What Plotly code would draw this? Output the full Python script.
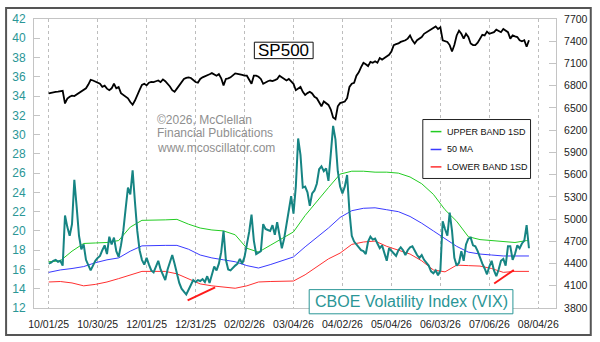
import plotly.graph_objects as go

# ---------------- data ----------------
tick_days = [0, 21, 42, 63, 84, 105, 126, 147, 168, 189, 210]
tick_labels = ["10/01/25", "10/30/25", "12/01/25", "12/31/25", "02/02/26", "03/04/26",
               "04/02/26", "05/04/26", "06/03/26", "07/06/26", "08/04/26"]

vix = [16.6, 16.7, 16.9, 17.0, 16.8, 16.9, 16.4, 21.6, 20.4, 19.5,
       20.7, 25.3, 22.5, 19.5, 18.1, 18.6, 17.0, 16.4, 15.9, 16.4,
       16.9, 17.2, 17.4, 18.0, 18.5, 17.6, 19.4, 18.6, 19.3, 17.9,
       17.3, 18.5, 20.0, 22.3, 24.5, 23.8, 26.3, 23.0, 20.0, 18.0,
       17.0, 16.5, 17.2, 16.5, 15.9, 15.7, 16.3, 16.9, 16.0, 15.5,
       14.9, 16.0, 16.8, 17.5, 16.6, 15.6, 14.6, 14.0, 13.7, 13.4,
       13.9, 14.4, 14.9, 14.7, 14.9, 14.8, 15.0, 14.7, 15.3, 14.6,
       15.5, 16.3, 15.9, 16.6, 17.8, 20.0, 17.0, 16.0, 15.9, 16.2,
       16.4, 16.6, 17.1, 16.6, 17.3, 18.6, 19.9, 21.7, 19.0, 17.6,
       17.8, 17.9, 20.7, 20.2, 20.1, 20.0, 20.6, 19.6, 20.9, 19.6,
       18.2, 19.2, 20.6, 22.2, 23.6, 21.8, 24.6, 29.6, 27.9, 24.5,
       24.6, 24.0, 22.6, 23.9, 24.2, 24.9, 26.4, 26.7, 26.2, 26.5,
       25.2, 28.0, 30.9, 29.5, 26.2, 24.6, 23.9, 24.6, 25.8, 22.0,
       19.5, 18.9, 18.6, 18.3, 18.0, 17.9, 17.6, 18.9, 19.4, 19.1,
       19.2, 18.7, 18.2, 18.5, 17.6, 16.9, 18.2, 17.9, 17.6, 17.4,
       18.0, 18.3, 18.0, 17.5, 18.0, 18.3, 18.4, 17.9, 17.5, 17.2,
       17.5, 17.0, 16.7, 16.4, 15.8, 15.6, 15.9, 15.4, 15.9, 21.0,
       20.2, 19.5, 21.9, 20.0, 17.2, 16.4, 16.7, 17.9, 16.9, 18.6,
       19.2, 19.3, 18.5, 18.4, 17.9, 17.2, 16.6, 16.1, 15.5, 16.3,
       16.9, 15.9, 15.3, 16.0, 16.9, 17.1, 16.4, 18.4, 18.4, 17.0,
       17.6, 18.5, 18.2, 18.7, 19.0, 20.6, 18.2]

sp500 = [6696, 6705, 6712, 6718, 6720, 6728, 6731, 6560, 6625, 6650,
         6665, 6660, 6680, 6705, 6715, 6740, 6765, 6815, 6880, 6870,
         6855, 6845, 6826, 6785, 6800, 6760, 6740, 6765, 6826, 6765,
         6783, 6700, 6680, 6650, 6630, 6580, 6543, 6600, 6680, 6745,
         6810, 6826, 6804, 6840, 6850, 6848, 6860, 6870, 6848, 6885,
         6860, 6826, 6790, 6740, 6718, 6760, 6800, 6850, 6891, 6905,
         6913, 6904, 6875, 6850, 6840, 6891, 6913, 6930, 6948, 6955,
         6970, 6950, 6935, 6957, 6900, 6804, 6891, 6900, 6913, 6940,
         6966, 6960, 6957, 6945, 6935, 6935, 6880, 6826, 6935, 6935,
         6920, 6891, 6826, 6848, 6860, 6870, 6861, 6875, 6891, 6935,
         6913, 6900, 6870, 6891, 6860, 6826, 6739, 6760, 6783, 6718,
         6674, 6700, 6718, 6696, 6650, 6631, 6565, 6522, 6587, 6565,
         6540, 6478, 6370, 6348, 6522, 6565, 6580, 6587, 6631, 6783,
         6826, 6840, 6935, 6980, 7050, 7109, 7090, 7065, 7122, 7110,
         7130, 7109, 7174, 7152, 7175, 7196, 7217, 7261, 7348, 7360,
         7370, 7391, 7400, 7413, 7435, 7478, 7413, 7370, 7413, 7430,
         7457, 7500, 7520, 7543, 7565, 7575, 7600, 7565, 7587, 7413,
         7400, 7391, 7348, 7261, 7348, 7478, 7543, 7500, 7435, 7500,
         7457, 7370, 7348, 7348, 7380, 7435, 7487, 7478, 7530, 7500,
         7510, 7522, 7557, 7540, 7522, 7565, 7540, 7522, 7435, 7478,
         7465, 7457, 7413, 7400, 7413, 7326, 7413]

band_days = [0, 5, 10, 15, 20, 25, 30, 35, 40, 45, 50, 55, 60, 65, 70, 75, 80, 85,
             90, 95, 100, 105, 110, 115, 120, 125, 130, 135, 140, 145, 150, 155,
             160, 165, 170, 175, 180, 185, 190, 195, 200, 205, 206]
upper_band = [16.8, 16.9, 17.9, 18.7, 18.75, 18.8, 19.0, 20.4, 21.1, 21.1, 21.15, 21.2,
              20.7, 20.3, 20.1, 20.0, 19.6, 18.2, 17.8, 18.5, 19.2, 19.9, 21.6, 23.1,
              24.5, 25.9, 26.2, 26.2, 26.1, 26.1, 26.0, 25.6, 24.9, 23.8, 22.2, 21.0,
              19.4, 19.1, 19.0, 18.9, 18.8, 19.0, 19.0]
ma50 = [15.7, 15.95, 16.1, 16.3, 16.7, 17.0, 17.2, 17.9, 18.45, 18.5, 18.5, 18.5,
        18.1, 17.5, 17.2, 17.0, 16.8, 16.4, 16.15, 16.5, 16.9, 17.3, 18.35, 19.3,
        20.3, 21.4, 22.1, 22.35, 22.4, 22.2, 22.0, 21.5, 20.8, 20.0, 19.2, 18.4,
        17.8, 17.6, 17.5, 17.4, 17.4, 17.4, 17.4]
lower_band = [14.7, 14.75, 14.6, 14.3, 14.45, 14.7, 15.05, 15.45, 15.8, 15.8, 15.8, 15.55,
              15.0, 14.5, 14.3, 14.15, 14.05, 14.3, 14.7, 14.75, 14.8, 14.8, 15.45, 16.3,
              17.1, 17.7, 18.6, 18.85, 18.95, 18.4, 18.0, 17.6, 16.9, 15.95, 15.75, 16.45,
              16.4, 16.35, 16.1, 15.7, 15.8, 15.8, 15.8]

# hand-drawn support trendlines (day index, VIX level)
trend1_days = [59.6, 71.4]
trend1_vix = [12.8, 14.14]
trend2_days = [191.1, 199.5]
trend2_vix = [14.54, 15.94]

legend_names = ["UPPER BAND 1SD", "50 MA", "LOWER BAND 1SD"]
legend_colors = ["#22cc22", "#3a3aff", "#ff3030"]

days = list(range(len(vix)))

FONT = "Arial, Liberation Sans, sans-serif"
TEAL = "#168483"
TEAL_TXT = "#2a9696"

fig = go.Figure()
fig.add_trace(go.Scatter(x=band_days, y=upper_band, mode="lines",
                         line=dict(color=legend_colors[0], width=1), showlegend=False))
fig.add_trace(go.Scatter(x=band_days, y=ma50, mode="lines",
                         line=dict(color=legend_colors[1], width=1), showlegend=False))
fig.add_trace(go.Scatter(x=band_days, y=lower_band, mode="lines",
                         line=dict(color=legend_colors[2], width=1), showlegend=False))
fig.add_trace(go.Scatter(x=days, y=vix, mode="lines",
                         line=dict(color=TEAL, width=2), showlegend=False))
fig.add_trace(go.Scatter(x=trend1_days, y=trend1_vix, mode="lines",
                         line=dict(color="#ff1a1a", width=2), showlegend=False))
fig.add_trace(go.Scatter(x=trend2_days, y=trend2_vix, mode="lines",
                         line=dict(color="#ff1a1a", width=2), showlegend=False))
fig.add_trace(go.Scatter(x=days, y=sp500, mode="lines", yaxis="y2",
                         line=dict(color="#000000", width=1.8), showlegend=False))

L, R, T, B = 30, 37, 13, 30
W, H = 600, 342
pw, ph = W - L - R, H - T - B


def px(xp):
    return (xp - L) / pw


def py(yp):
    return (H - B - yp) / ph


AX = "#c4c4c4"
fig.update_layout(
    width=W, height=H,
    margin=dict(l=L, r=R, t=T, b=B),
    paper_bgcolor="white", plot_bgcolor="white",
    font=dict(family=FONT),
    xaxis=dict(range=[-6.3, 217.6], tickvals=tick_days, ticktext=tick_labels,
               showgrid=True, gridcolor="#bdbdbd", griddash="dot", gridwidth=1,
               showline=True, linecolor=AX, linewidth=1, mirror=True,
               ticks="", zeroline=False, ticklabelstandoff=6,
               tickfont=dict(size=10.5, color="#222222", family=FONT)),
    yaxis=dict(range=[12, 42], dtick=2, showgrid=False, zeroline=False,
               showline=True, linecolor=AX, linewidth=1,
               ticks="inside", ticklen=6, tickcolor=AX,
               ticklabelstandoff=5,
               tickfont=dict(size=12, color=TEAL_TXT, family=FONT)),
    yaxis2=dict(range=[3800, 7700], tick0=3800, dtick=300, overlaying="y", side="right",
                showgrid=False, zeroline=False, showline=True, linecolor=AX,
                ticks="inside", ticklen=7, tickcolor=AX, ticklabelstandoff=5,
                tickfont=dict(size=10.5, color="#222222", family=FONT)),
)

shapes = []
annotations = []
# outer frame
shapes.append(dict(type="rect", xref="paper", yref="paper",
                   x0=px(1.5), x1=px(598.5), y0=py(340), y1=py(1.5),
                   line=dict(color="#555555", width=2)))
# SP500 title box
shapes.append(dict(type="rect", xref="paper", yref="paper",
                   x0=px(255), x1=px(315), y0=py(54), y1=py(37),
                   line=dict(color="#111111", width=1), fillcolor="white"))
annotations.append(dict(text="SP500", xref="paper", yref="paper", x=px(285), y=py(45.5),
                        xanchor="center", yanchor="middle", showarrow=False,
                        font=dict(size=17, color="#000000", family=FONT)))
# VIX label box
shapes.append(dict(type="rect", xref="paper", yref="paper",
                   x0=px(311), x1=px(519), y0=py(318), y1=py(293),
                   line=dict(color=TEAL_TXT, width=1), fillcolor="white"))
annotations.append(dict(text="CBOE Volatility Index (VIX)", xref="paper", yref="paper",
                        x=px(415), y=py(305.5), xanchor="center", yanchor="middle",
                        showarrow=False, font=dict(size=16, color=TEAL_TXT, family=FONT)))
# copyright
for txt, yy in [("©2026, McClellan", 117), ("Financial Publications", 131),
                ("www.mcoscillator.com", 146)]:
    annotations.append(dict(text=txt, xref="paper", yref="paper", x=px(154), y=py(yy),
                            xanchor="left", yanchor="middle", showarrow=False,
                            font=dict(size=12, color="#8f8f8f", family=FONT)))
# manual legend
shapes.append(dict(type="rect", xref="paper", yref="paper",
                   x0=px(427), x1=px(537), y0=py(178), y1=py(117),
                   line=dict(color="#222222", width=1), fillcolor="white"))
for name, col, yy in zip(legend_names, legend_colors, [129.5, 148, 166]):
    shapes.append(dict(type="line", xref="paper", yref="paper",
                       x0=px(435), x1=px(446), y0=py(yy), y1=py(yy),
                       line=dict(color=col, width=1.5)))
    annotations.append(dict(text=name, xref="paper", yref="paper", x=px(450), y=py(yy),
                            xanchor="left", yanchor="middle", showarrow=False,
                            font=dict(size=9, color="#111111", family=FONT)))

fig.update_layout(shapes=shapes, annotations=annotations)
fig.write_html("out.html")
